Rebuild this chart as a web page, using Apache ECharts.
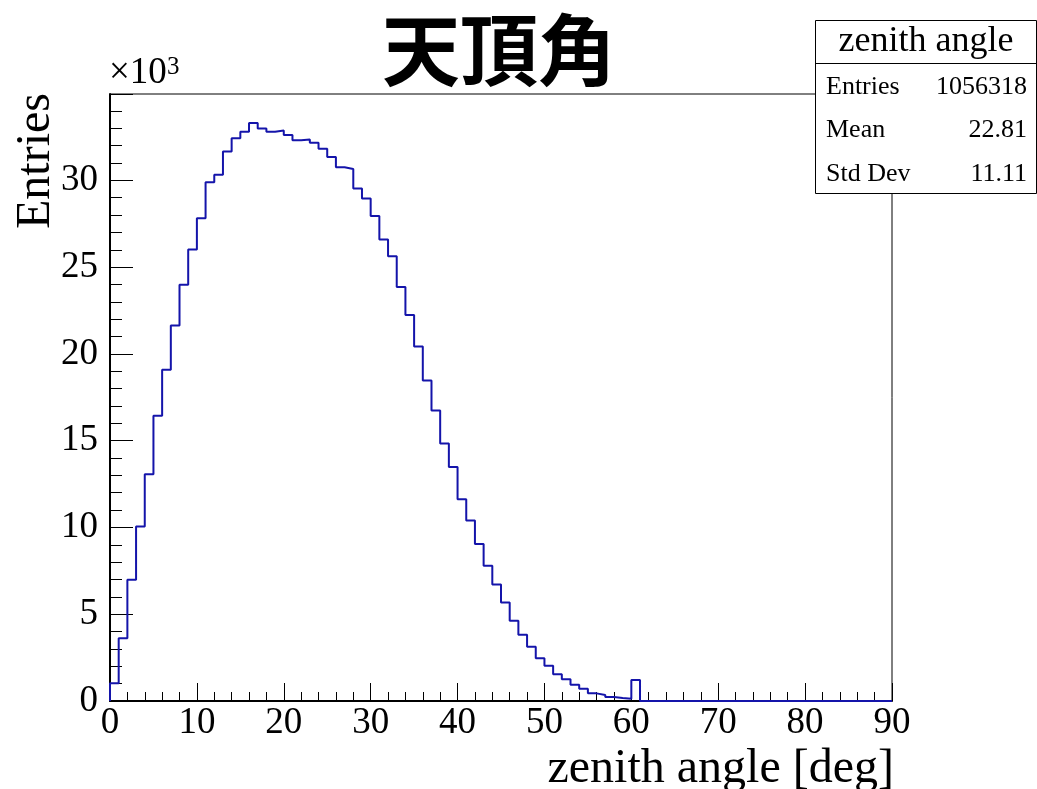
<!DOCTYPE html>
<html>
<head>
<meta charset="utf-8">
<script src="https://cdn.jsdelivr.net/npm/echarts@6/dist/echarts.min.js"></script>
<style>
  html, body { margin: 0; padding: 0; background: #fff; }
  #chart { width: 1037px; height: 789px; }
</style>
</head>
<body>
<div id="chart"></div>
<script>
// Zenith angle histogram: 1-degree bins from 0 to 90 deg, counts in units of 10^3
const binWidth = 1;
const xMin = 0;
const xMax = 90;
const entriesK = [
  1.02, 3.62, 6.98, 10.05, 13.07, 16.44, 19.09, 21.64, 23.99, 26.01,
  27.81, 29.89, 30.32, 31.66, 32.43, 32.80, 33.31, 32.99, 32.80, 32.87,
  32.62, 32.31, 32.35, 32.16, 31.82, 31.35, 30.76, 30.66, 29.53, 28.95,
  27.95, 26.59, 25.62, 23.86, 22.24, 20.42, 18.47, 16.74, 14.84, 13.48,
  11.63, 10.40, 9.04, 7.80, 6.71, 5.67, 4.63, 3.82, 3.13, 2.46,
  2.03, 1.54, 1.25, 0.94, 0.71, 0.44, 0.35, 0.23, 0.17, 0.13,
  1.21, 0, 0, 0, 0, 0, 0, 0, 0, 0,
  0, 0, 0, 0, 0, 0, 0, 0, 0, 0,
  0, 0, 0, 0, 0, 0, 0, 0, 0, 0
];
const xTickLabels = ['0', '10', '20', '30', '40', '50', '60', '70', '80', '90'];
const yTickLabels = ['0', '5', '10', '15', '20', '25', '30'];

const titleText = '天頂角';
const histName = 'zenith angle';
const xTitle = 'zenith angle [deg]';
const yTitle = 'Entries';
const statLabels = ['Entries', 'Mean', 'Std Dev'];
const statValues = ['1056318', '22.81', '11.11'];

// outline of the histogram: start at the baseline, then one point per bin low edge
const outline = [[xMin, 0]];
entriesK.forEach((v, i) => outline.push([xMin + i * binWidth, v]));
outline.push([xMin + entriesK.length * binWidth, entriesK[entriesK.length - 1]]);

const yMax = Math.max(...entriesK) * 1.05;

const serif = 'Liberation Serif';
const tickFont = 37;

const chart = echarts.init(document.getElementById('chart'), null, { renderer: 'canvas' });

const statGraphics = [];
statLabels.forEach((lab, i) => {
  const y = 87 + i * 43.5;
  statGraphics.push({
    type: 'text', x: 826, y: y, z: 20,
    style: { text: lab, font: '26px "' + serif + '"', fill: '#000',
             textAlign: 'left', textVerticalAlign: 'middle' }
  });
  statGraphics.push({
    type: 'text', x: 1027, y: y, z: 20,
    style: { text: statValues[i], font: '26px "' + serif + '"', fill: '#000',
             textAlign: 'right', textVerticalAlign: 'middle' }
  });
});

chart.setOption({
  animation: false,
  backgroundColor: '#ffffff',
  grid: {
    left: 110, right: 145, top: 94, bottom: 88,
    show: true, borderColor: '#000', borderWidth: 1, backgroundColor: 'transparent'
  },
  xAxis: {
    type: 'value', min: xMin, max: xMax, interval: 10,
    axisLine: { show: true, onZero: false, lineStyle: { color: '#000', width: 2 } },
    axisTick: { show: true, inside: true, length: 18, lineStyle: { color: '#000', width: 1 } },
    minorTick: { show: true, splitNumber: 5, length: 9, lineStyle: { color: '#000', width: 1 } },
    axisLabel: {
      margin: 4, color: '#000', fontFamily: serif, fontSize: tickFont,
      formatter: (v) => xTickLabels[Math.round(v / 10)] ?? ''
    },
    splitLine: { show: false }
  },
  yAxis: {
    type: 'value', min: 0, max: yMax, interval: 5,
    axisLine: { show: true, lineStyle: { color: '#000', width: 2 } },
    axisTick: { show: true, inside: true, length: 23, lineStyle: { color: '#000', width: 1 } },
    minorTick: { show: true, splitNumber: 5, length: 12, lineStyle: { color: '#000', width: 1 } },
    axisLabel: {
      margin: 12, color: '#000', fontFamily: serif, fontSize: tickFont, showMaxLabel: false,
      formatter: (v) => (Math.abs(v / 5 - Math.round(v / 5)) < 1e-6 ? (yTickLabels[Math.round(v / 5)] ?? '') : '')
    },
    splitLine: { show: false }
  },
  series: [{
    type: 'line',
    name: histName,
    data: outline,
    step: 'end',
    showSymbol: false,
    symbol: 'none',
    lineStyle: { color: '#1414aa', width: 2 },
    z: 3
  }],
  graphic: [
    {
      type: 'text', x: 499, y: 50, z: 20,
      style: { text: titleText, font: 'bold 78px "Noto Sans CJK JP"', fill: '#000',
               textAlign: 'center', textVerticalAlign: 'middle' }
    },
    {
      type: 'text', x: 109, y: 92, z: 20,
      style: { text: '×10', font: '37px "' + serif + '"', fill: '#000',
               textAlign: 'left', textVerticalAlign: 'bottom' }
    },
    {
      type: 'text', x: 167, y: 80, z: 20,
      style: { text: '3', font: '25px "' + serif + '"', fill: '#000',
               textAlign: 'left', textVerticalAlign: 'bottom' }
    },
    {
      type: 'text', x: 36, y: 93, rotation: Math.PI / 2, z: 20,
      style: { text: yTitle, font: '48px "' + serif + '"', fill: '#000',
               textAlign: 'right', textVerticalAlign: 'middle' }
    },
    {
      type: 'text', x: 894, y: 769, z: 20,
      style: { text: xTitle, font: '48px "' + serif + '"', fill: '#000',
               textAlign: 'right', textVerticalAlign: 'middle' }
    },
    // statistics box
    {
      type: 'rect', z: 15,
      shape: { x: 815.5, y: 20.5, width: 221, height: 173 },
      style: { fill: '#fff', stroke: '#000', lineWidth: 1 }
    },
    {
      type: 'line', z: 16,
      shape: { x1: 815.5, y1: 63.5, x2: 1037, y2: 63.5 },
      style: { stroke: '#000', lineWidth: 1 }
    },
    {
      type: 'text', x: 926, y: 42, z: 20,
      style: { text: histName, font: '36px "' + serif + '"', fill: '#000',
               textAlign: 'center', textVerticalAlign: 'middle' }
    }
  ].concat(statGraphics)
});
</script>
</body>
</html>
